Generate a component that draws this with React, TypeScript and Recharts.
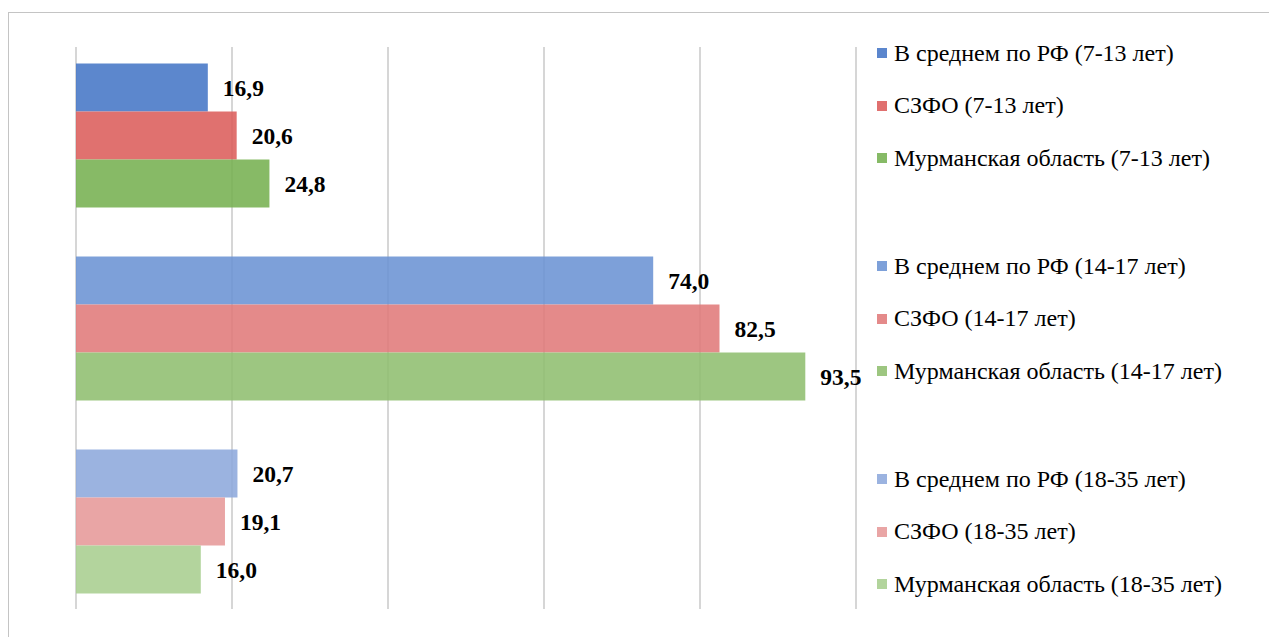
import React from 'react';
import { BarChart, Bar, XAxis, YAxis, CartesianGrid, LabelList, Cell } from 'recharts';

const categories = ['7-13 лет', '14-17 лет', '18-35 лет'];
const seriesNames = ['В среднем по РФ', 'СЗФО', 'Мурманская область'];
const seriesKeys = ['rf', 'szfo', 'murmansk'];
const rfValues = [16.9, 74.0, 20.7];
const szfoValues = [20.6, 82.5, 19.1];
const murmanskValues = [24.8, 93.5, 16.0];
const xTicks = [0, 20, 40, 60, 80, 100];

// colours per series (rows) and per age group (columns)
const seriesColors = [
  ['#5B86CD', '#7DA0D9', '#9BB3E0'],
  ['#E0706F', '#E48A8A', '#E9A5A5'],
  ['#86BA66', '#9DC680', '#B2D49C'],
];

const FILL_OPACITY = 0.88;
const GRID_COLOR = '#ADADAD';
const FONT = '"Liberation Serif", "Times New Roman", "DejaVu Serif", serif';

// colour that, drawn with FILL_OPACITY over white, gives the target colour
function baseFor(hex: string): string {
  const n = parseInt(hex.slice(1), 16);
  const ch = [(n >> 16) & 255, (n >> 8) & 255, n & 255].map((t) => {
    const v = Math.round((t - (1 - FILL_OPACITY) * 255) / FILL_OPACITY);
    return Math.max(0, Math.min(255, v));
  });
  return '#' + ch.map((v) => v.toString(16).padStart(2, '0')).join('');
}

const valueLists = [rfValues, szfoValues, murmanskValues];
const data = categories.map((c, i) => ({
  category: c,
  rf: rfValues[i],
  szfo: szfoValues[i],
  murmansk: murmanskValues[i],
}));

const fmt = (v: any) => Number(v).toFixed(1).replace('.', ',');

const gridLine = (props: any) => (
  <line
    key={props.key}
    x1={props.x1}
    x2={props.x2}
    y1={props.y1 + 8.5}
    y2={props.y2 - 8.5}
    stroke={GRID_COLOR}
    strokeWidth={1}
  />
);

export default function App() {
  return (
    <div style={{ position: 'relative', width: 1269, height: 629, fontFamily: FONT, overflow: 'hidden' }}>
      <div
        style={{
          position: 'absolute',
          left: 0,
          top: 4,
          width: 1400,
          height: 700,
          borderTop: '1px solid #C4C4C4',
          borderLeft: '1px solid #C4C4C4',
        }}
      />
      <div style={{ position: 'absolute', left: 0, top: 0 }}>
        <BarChart
          width={1269}
          height={629}
          data={data}
          layout="vertical"
          margin={{ top: 30.5, right: 421, bottom: 19.5, left: 68 }}
          barGap={0}
          barSize={48}
        >
          <CartesianGrid horizontal={false} vertical={gridLine} stroke={GRID_COLOR} />
          <XAxis type="number" domain={[0, 100]} ticks={xTicks} hide />
          <YAxis type="category" dataKey="category" hide />
          {seriesKeys.map((k, si) => (
            <Bar key={k} dataKey={k} name={seriesNames[si]} isAnimationActive={false} fillOpacity={FILL_OPACITY}>
              {valueLists[si].map((_, gi) => (
                <Cell key={gi} fill={baseFor(seriesColors[si][gi])} />
              ))}
              <LabelList
                dataKey={k}
                position="right"
                offset={15}
                formatter={fmt}
                style={{ fontFamily: FONT, fontWeight: 'bold', fontSize: 23.5, fill: '#000' }}
              />
            </Bar>
          ))}
        </BarChart>
      </div>
      <div style={{ position: 'absolute', left: 869, top: 0 }}>
        {categories.map((cat, gi) =>
          seriesNames.map((name, si) => (
            <div
              key={`${gi}-${si}`}
              style={{
                position: 'absolute',
                left: 0,
                top: 45 + gi * 213 + si * 52.7 - 15,
                height: 30,
                display: 'flex',
                alignItems: 'center',
                whiteSpace: 'nowrap',
                fontSize: 24,
                color: '#000',
              }}
            >
              <span
                style={{
                  display: 'inline-block',
                  width: 10,
                  height: 10,
                  background: seriesColors[si][gi],
                  marginRight: 7,
                }}
              />
              <span>{`${name} (${cat})`}</span>
            </div>
          ))
        )}
      </div>
    </div>
  );
}
